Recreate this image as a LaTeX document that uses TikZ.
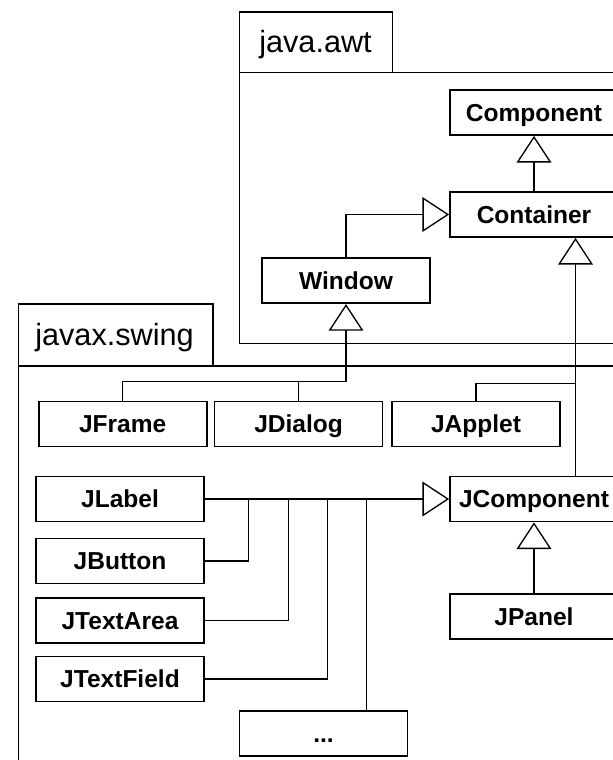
\documentclass[tikz,border=0pt]{standalone}
\usepackage{fontspec}
\setmainfont{Liberation Sans}
\usetikzlibrary{arrows.meta,calc}
\tikzset{
  cls/.style={draw, line width=1.3pt, fill=white, minimum width=126pt, minimum height=33.75pt,
    inner sep=0pt, text height=13.2pt, text depth=0pt,
    font=\fontsize{18.4}{22}\selectfont\bfseries},
  conn/.style={draw, line width=0.8pt},
  gen/.style={conn, -{Triangle[open, length=20pt, width=26pt, line width=1pt]}},
  pkg/.style={draw, line width=1.2pt},
  pkglabel/.style={anchor=base west, inner sep=0pt, font=\fontsize{23}{27}\selectfont}
}
\begin{document}
\begin{tikzpicture}[x=0.75pt,y=-0.75pt]
\useasboundingbox (0,0) rectangle (613,760);
\clip (0,0) rectangle (613,760);
% packages
\draw[pkg] (239.3,11.7) rectangle (392.3,72.3);
\node[pkglabel] (awtlabel) at (259,52) {java.awt};
\draw[pkg] (239.3,72.3) rectangle (720,343.3);
\draw[pkg] (18.4,304) rectangle (213,365.7);
\node[pkglabel] (swinglabel) at (35,345) {javax.swing};
\draw[pkg] (18.4,365.7) rectangle (720,900);
% classes
\node[cls] (Component) at (534,112.5) {Component};
\node[cls] (Container) at (534,214.5) {Container};
\node[cls] (Window) at (346,280.7) {Window};
\node[cls] (JFrame) at (122.7,424) {JFrame};
\node[cls] (JDialog) at (298.6,424) {JDialog};
\node[cls] (JApplet) at (476,424) {JApplet};
\node[cls] (JLabel) at (120,499) {JLabel};
\node[cls] (JButton) at (120,561) {JButton};
\node[cls] (JTextArea) at (120,620.5) {JTextArea};
\node[cls] (JTextField) at (120,679) {JTextField};
\node[cls] (dots) at (323.5,733.4) {...};
\node[cls] (JComponent) at (534,499) {JComponent};
\node[cls] (JPanel) at (534,616.7) {JPanel};
% helper coordinates
\coordinate (wj) at (346,381.7);
\coordinate (ja) at (575.5,383.3);
\coordinate (b1) at (248.2,499);
\coordinate (b2) at (288.5,499);
\coordinate (b3) at (327.6,499);
\coordinate (b4) at (366.3,499);
% connectors
\draw[gen] (Container.north) -- (Component.south);
\draw[gen] (Window.north) |- (Container.west);
\draw[conn] (JFrame.north) |- (wj);
\draw[conn] (JDialog.north) -- (JDialog.north |- wj);
\draw[gen] (wj) -- (Window.south);
\draw[gen] ($(JComponent.north)+(41.5,0)$) -- ($(Container.south)+(41.5,0)$);
\draw[conn] (JApplet.north) |- (ja);
\draw[gen] (JLabel.east) -- (JComponent.west);
\draw[conn] (JButton.east) -| (b1);
\draw[conn] (JTextArea.east) -| (b2);
\draw[conn] (JTextField.east) -| (b3);
\draw[conn] ($(dots.north)+(42.8,0)$) -- (b4);
\draw[gen] (JPanel.north) -- (JComponent.south);
\end{tikzpicture}
\end{document}
